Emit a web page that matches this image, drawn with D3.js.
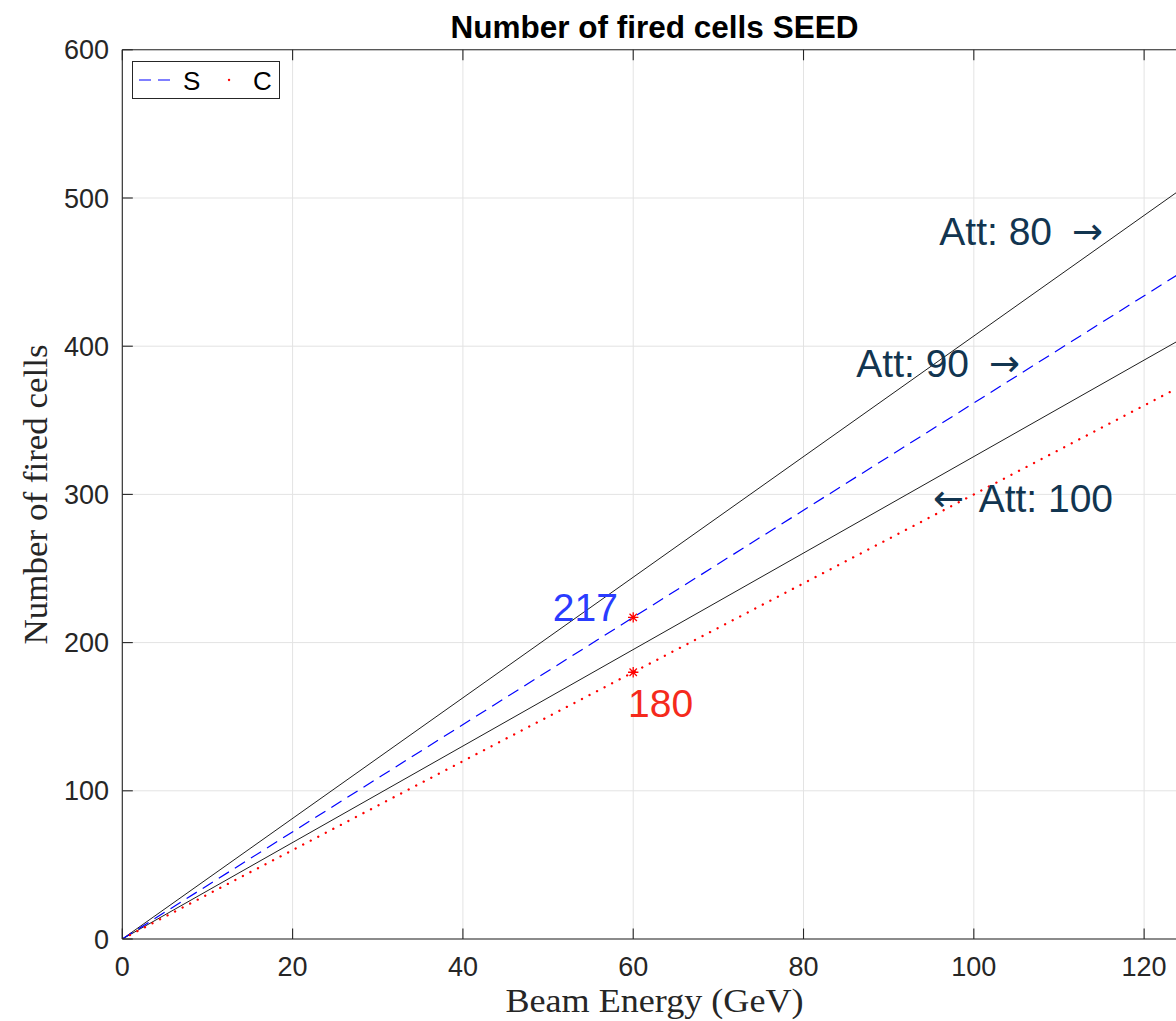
<!DOCTYPE html>
<html>
<head>
<meta charset="utf-8">
<script src="https://cdn.jsdelivr.net/npm/d3@7"></script>
<style>
  html, body { margin: 0; padding: 0; background: #fff; }
  svg { display: block; }
</style>
</head>
<body>
<svg id="chart" width="1176" height="1021"></svg>
<script>
// Beam energy range covered by the straight-line estimates (GeV)
const beamEnergy = [0, 125];
// Fired cells for the S (scintillation) and C (Cherenkov) channels
const seriesS = [0, 452.1];
const seriesC = [0, 375.0];
// Reference lines for attenuation 80 and 100
const att80 = [0, 508.6];
const att100 = [0, 406.9];
// Measured points at 60 GeV
const markerEnergy = [60, 60];
const markerValues = [217, 180];
// Axis ticks
const xTicks = [0, 20, 40, 60, 80, 100, 120];
const yTicks = [0, 100, 200, 300, 400, 500, 600];

const svg = d3.select("#chart");
const sans = "'Liberation Sans', Arial, Helvetica, sans-serif";
const serif = "'Liberation Serif', 'Times New Roman', serif";
const arrowFont = "'DejaVu Sans', sans-serif";
const axisColor = "#262626";

const x = d3.scaleLinear().domain([0, 125]).range([122.3, 1186.7]);
const y = d3.scaleLinear().domain([0, 600]).range([939, 49.8]);

const [x0, x1] = x.range();
const [yb, yt] = y.range();

svg.append("defs").append("clipPath").attr("id", "plotClip")
  .append("rect").attr("x", x0).attr("y", yt).attr("width", x1 - x0).attr("height", yb - yt);

// Grid
const grid = svg.append("g").attr("stroke", "#e3e3e3").attr("stroke-width", 1);
xTicks.forEach(t => grid.append("line")
  .attr("x1", x(t)).attr("x2", x(t)).attr("y1", yb).attr("y2", yt));
yTicks.forEach(t => grid.append("line")
  .attr("x1", x0).attr("x2", x1).attr("y1", y(t)).attr("y2", y(t)));

// Lines
const plot = svg.append("g").attr("clip-path", "url(#plotClip)");
const lineOf = vals => d3.line().x((d, i) => x(beamEnergy[i])).y(d => y(d))(vals);

plot.append("path").attr("d", lineOf(att80))
  .attr("fill", "none").attr("stroke", "#1e1e1e").attr("stroke-width", 1);
plot.append("path").attr("d", lineOf(att100))
  .attr("fill", "none").attr("stroke", "#1e1e1e").attr("stroke-width", 1);
plot.append("path").attr("d", lineOf(seriesS))
  .attr("fill", "none").attr("stroke", "#0000ff").attr("stroke-width", 1.2)
  .attr("stroke-dasharray", "12,7");
plot.append("path").attr("d", lineOf(seriesC))
  .attr("fill", "none").attr("stroke", "#ff0000").attr("stroke-width", 2.3)
  .attr("stroke-linecap", "round").attr("stroke-dasharray", "0.1,8.4");

// Asterisk markers
const star = (cx, cy, r) => {
  const d = [];
  for (let k = 0; k < 4; k++) {
    const a = k * Math.PI / 4;
    d.push(`M${cx - r * Math.cos(a)},${cy - r * Math.sin(a)}L${cx + r * Math.cos(a)},${cy + r * Math.sin(a)}`);
  }
  return d.join("");
};
markerValues.forEach((v, i) => {
  plot.append("path").attr("d", star(x(markerEnergy[i]), y(v), 5.2))
    .attr("stroke", "#ff0000").attr("stroke-width", 1.3).attr("fill", "none");
});

// Axes box and ticks
const axes = svg.append("g").attr("stroke", axisColor).attr("stroke-width", 1.1).attr("fill", "none");
axes.append("line").attr("x1", x0).attr("x2", x1).attr("y1", yb).attr("y2", yb);
axes.append("line").attr("x1", x0).attr("x2", x1).attr("y1", yt).attr("y2", yt);
axes.append("line").attr("x1", x0).attr("x2", x0).attr("y1", yb).attr("y2", yt);
axes.append("line").attr("x1", x1).attr("x2", x1).attr("y1", yb).attr("y2", yt);
const tl = 10.5;
xTicks.forEach(t => {
  axes.append("line").attr("x1", x(t)).attr("x2", x(t)).attr("y1", yb).attr("y2", yb - tl);
  axes.append("line").attr("x1", x(t)).attr("x2", x(t)).attr("y1", yt).attr("y2", yt + tl);
});
yTicks.forEach(t => {
  axes.append("line").attr("x1", x0).attr("x2", x0 + tl).attr("y1", y(t)).attr("y2", y(t));
  axes.append("line").attr("x1", x1).attr("x2", x1 - tl).attr("y1", y(t)).attr("y2", y(t));
});

// Tick labels
const tickFont = 27;
xTicks.forEach(t => svg.append("text")
  .attr("x", x(t)).attr("y", 976).attr("text-anchor", "middle")
  .attr("font-family", sans).attr("font-size", tickFont).attr("fill", axisColor)
  .text(t));
yTicks.forEach(t => svg.append("text")
  .attr("x", 109).attr("y", y(t) + 9.6).attr("text-anchor", "end")
  .attr("font-family", sans).attr("font-size", tickFont).attr("fill", axisColor)
  .text(t));

// Title
svg.append("text").attr("x", (x0 + x1) / 2).attr("y", 38).attr("text-anchor", "middle")
  .attr("font-family", sans).attr("font-weight", "bold").attr("font-size", 31.5)
  .attr("fill", "#000").text("Number of fired cells SEED");

// Axis labels
svg.append("text").attr("x", (x0 + x1) / 2).attr("y", 1012).attr("text-anchor", "middle")
  .attr("font-family", serif).attr("font-size", 33).attr("fill", axisColor)
  .attr("textLength", 298).attr("lengthAdjust", "spacingAndGlyphs")
  .text("Beam Energy (GeV)");
svg.append("text")
  .attr("transform", `translate(47,${(yb + yt) / 2}) rotate(-90)`)
  .attr("text-anchor", "middle")
  .attr("font-family", serif).attr("font-size", 33).attr("fill", axisColor)
  .attr("textLength", 300).attr("lengthAdjust", "spacingAndGlyphs")
  .text("Number of fired cells");

// Annotations
const navy = "#123550";
const annot = (xv, yv, color, anchor) => svg.append("text")
  .attr("x", x(xv)).attr("y", y(yv)).attr("text-anchor", anchor || "start")
  .attr("font-family", sans).attr("font-size", 39).attr("fill", color);
const arrowSpan = (t, ch, dx) => t.append("tspan").attr("font-family", arrowFont)
  .attr("font-size", 37).attr("dx", dx || 0).attr("dy", -1).text(ch);

let t80 = annot(95.95, 468.3, navy);
t80.append("tspan").text("Att: 80 ");
arrowSpan(t80, "\u2192", 9);

let t90 = annot(86.2, 379.2, navy);
t90.append("tspan").text("Att: 90 ");
arrowSpan(t90, "\u2192", 9);

let t100 = annot(95.2, 288.1, navy);
arrowSpan(t100, "\u2190");
t100.append("tspan").attr("dx", 6).attr("dy", 1).text(" Att: 100");

annot(58.2, 214.6, "#2a3cff", "end").text(String(markerValues[0]));
annot(59.4, 149.8, "#f52a1c").text(String(markerValues[1]));

// Legend
const lg = svg.append("g");
lg.append("rect").attr("x", 132.5).attr("y", 61.5).attr("width", 147).attr("height", 37)
  .attr("fill", "#fff").attr("stroke", axisColor).attr("stroke-width", 1);
lg.append("line").attr("x1", 139).attr("x2", 175).attr("y1", 80).attr("y2", 80)
  .attr("stroke", "#0000ff").attr("stroke-width", 1.2).attr("stroke-dasharray", "12,7");
lg.append("text").attr("x", 183).attr("y", 89.5).attr("font-family", sans)
  .attr("font-size", 26).attr("fill", "#000").text("S");
lg.append("line").attr("x1", 222).attr("x2", 236).attr("y1", 80).attr("y2", 80)
  .attr("stroke", "#ff0000").attr("stroke-width", 2.3).attr("stroke-linecap", "round")
  .attr("stroke-dasharray", "0.1,40").attr("stroke-dashoffset", -7);
lg.append("text").attr("x", 253).attr("y", 89.5).attr("font-family", sans)
  .attr("font-size", 26).attr("fill", "#000").text("C");
</script>
</body>
</html>
